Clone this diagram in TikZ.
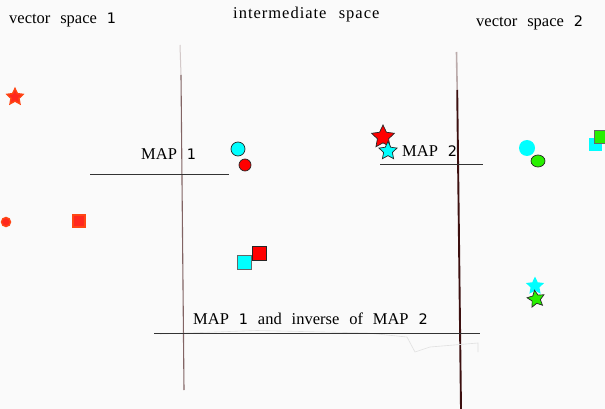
\documentclass[tikz,border=0pt]{standalone}
\usepackage{fontspec}
\setmainfont{Liberation Serif}[WordSpace=2.4]
\newfontfamily\digitfont{DejaVu Sans}
\usetikzlibrary{shapes.geometric}
\definecolor{bg}{RGB}{250,250,250}
\definecolor{lred}{RGB}{255,40,30}
\definecolor{lredline}{RGB}{255,70,20}
\definecolor{cy}{RGB}{0,255,255}
\definecolor{gr}{RGB}{40,240,0}
\definecolor{leftline}{RGB}{130,100,100}
\definecolor{rightline}{RGB}{60,15,15}
\newcommand{\dg}[1]{{\digitfont\fontsize{14.5}{16}\selectfont #1}}
\tikzset{
  lbl/.style={anchor=base west, inner sep=0pt, font=\fontsize{16.5}{19}\selectfont},
  starshape/.style={star, star points=5, star point ratio=2.05, inner sep=0pt, shape border rotate=0},
  dotshape/.style={circle, inner sep=0pt},
  sqshape/.style={rectangle, inner sep=0pt},
  outl/.style={draw=black!85, line width=0.7pt},
  leftred/.style={fill=lred, draw=lredline, line width=1.4pt},
  mapline/.style={draw=black!80, line width=0.9pt},
}
\begin{document}
\begin{tikzpicture}[x=1pt,y=-1pt]
\fill[bg] (0,0) rectangle (605,409);
\useasboundingbox (0,0) rectangle (605,409);
% titles
\node[lbl] (t1) at (9,24) {vector space \dg{1}};
\node[lbl] (t2) at (233,19) {\addfontfeatures{LetterSpace=6}intermediate space};
\node[lbl] (t3) at (476,27) {vector space \dg{2}};
% vertical lines
\coordinate (l1a) at (180,45);
\coordinate (l1m) at (181,75);
\coordinate (l1b) at (184,390);
\coordinate (l2a) at (456.5,52);
\coordinate (l2m) at (457.2,90);
\coordinate (l2b) at (461,409);
\draw[leftline!35, line width=1pt] (l1a) -- (l1m);
\draw[leftline, line width=1.1pt] (l1m) -- (l1b);
\draw[rightline!35, line width=1.6pt] (l2a) -- (l2m);
\draw[rightline, line width=1.9pt] (l2m) -- (l2b);
% map lines
\coordinate (m1a) at (90,174);
\coordinate (m1b) at (229,174);
\draw[mapline] (m1a) -- (m1b);
\coordinate (m2a) at (380,164);
\coordinate (m2b) at (483,164);
\draw[mapline] (m2a) -- (m2b);
\coordinate (m3a) at (154,333);
\coordinate (m3b) at (480,333);
% faint scribble
\coordinate (s1) at (160,334);
\coordinate (s2) at (257,330.5);
\coordinate (s3) at (367,333);
\coordinate (s4) at (407,337);
\coordinate (s5) at (415,352);
\coordinate (s6) at (430,347);
\coordinate (s7) at (478,343);
\coordinate (s8) at (478,352);
\draw[black!12, line width=0.6pt] (s1) -- (s2) -- (s3) -- (s4) -- (s5) -- (s6) -- (s7) -- (s8);
\draw[mapline] (m3a) -- (m3b);
% map labels
\node[lbl] (map1) at (141,160) {MAP \dg{1}};
\node[lbl] (map2) at (402,157) {MAP \dg{2}};
\node[lbl] (map3) at (193,324) {MAP \dg{1} and inverse of MAP \dg{2}};
% vector space 1 shapes
\node[starshape, leftred, minimum size=17pt] (v1star) at (15,97) {};
\node[dotshape, leftred, minimum size=9pt] (v1dot) at (6,222) {};
\node[sqshape, leftred, minimum size=12pt] (v1sq) at (79,221) {};
% intermediate shapes
\node[dotshape, outl, fill=cy, minimum size=14pt] (idot1) at (238,149) {};
\node[dotshape, outl, fill=red, minimum size=12pt] (idot2) at (245,165) {};
\node[sqshape, outl, fill=red, minimum size=14pt] (isq2) at (259,253.5) {};
\node[sqshape, draw=black!60, line width=0.7pt, fill=cy, minimum size=14pt] (isq1) at (244,262.5) {};
\node[starshape, outl, fill=red, minimum size=24pt] (istar2) at (383,137) {};
\node[starshape, outl, fill=cy, minimum size=19pt] (istar1) at (388,151) {};
% vector space 2 shapes
\node[dotshape, fill=cy, minimum size=16pt] (v2dot1) at (527,148) {};
\node[ellipse, inner sep=0pt, outl, fill=gr, minimum width=14pt, minimum height=12pt] (v2dot2) at (538,161) {};
\node[sqshape, fill=cy, minimum size=13pt] (v2sq1) at (595,145) {};
\node[sqshape, draw=black!60, line width=0.7pt, fill=gr, minimum size=13pt] (v2sq2) at (601,136.5) {};
\node[starshape, fill=cy, minimum size=19pt] (v2star1) at (535,286) {};
\node[starshape, outl, fill=gr, minimum size=18pt, shape border rotate=10] (v2star2) at (536,299) {};
\end{tikzpicture}
\end{document}
